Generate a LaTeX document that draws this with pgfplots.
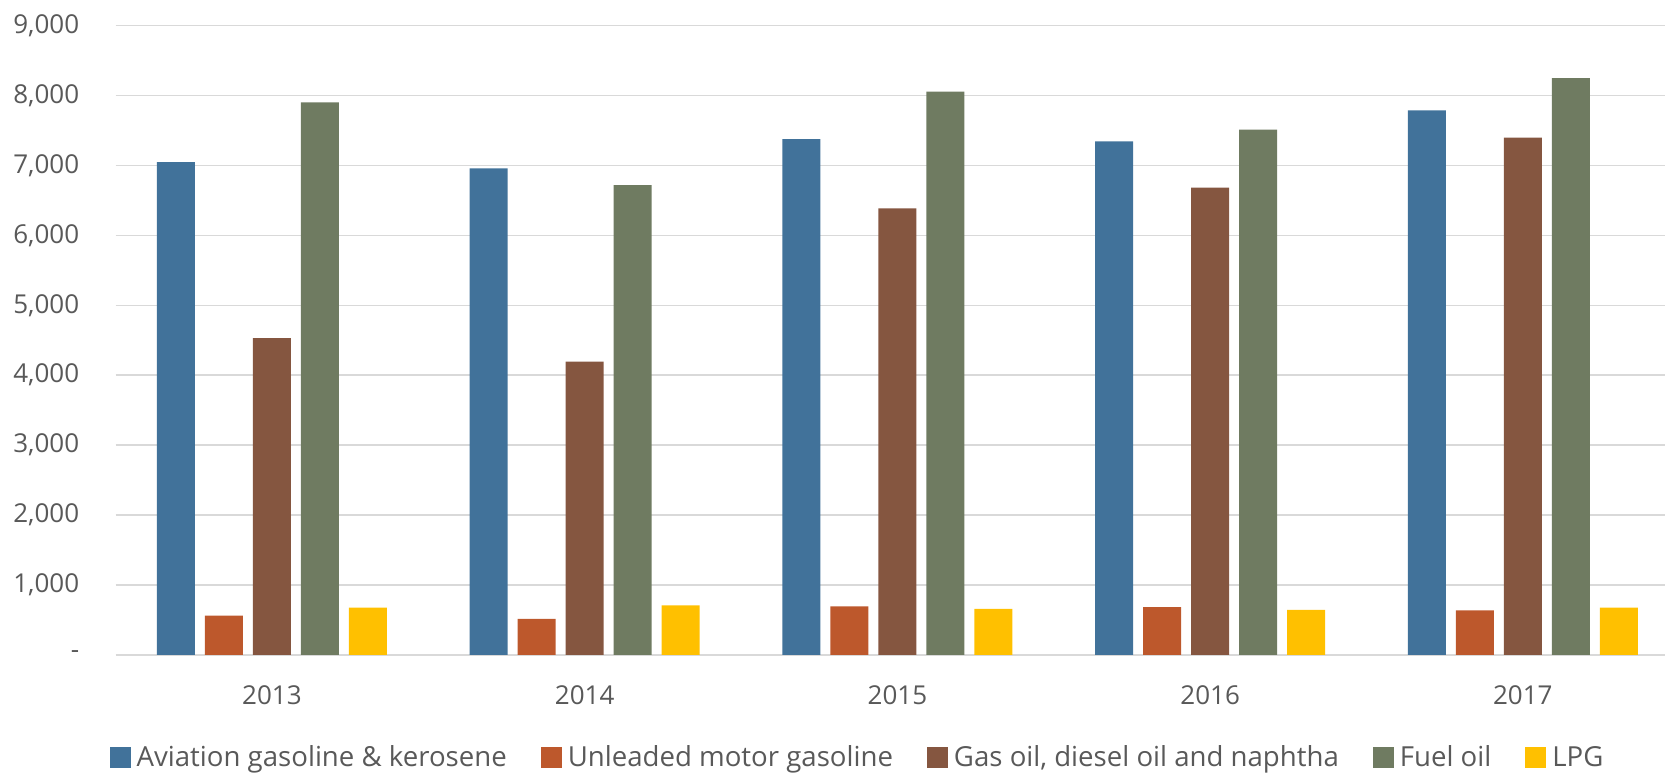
\documentclass[border=0pt]{standalone}
\usepackage{fontspec}
\setmainfont{Open Sans}
\usepackage{pgfplots}
\pgfplotsset{compat=1.18}

\definecolor{cAvi}{HTML}{41729A}
\definecolor{cUnl}{HTML}{BD582C}
\definecolor{cGas}{HTML}{855640}
\definecolor{cFuel}{HTML}{6F7B61}
\definecolor{cLpg}{HTML}{FFC000}
\definecolor{cText}{HTML}{595959}
\definecolor{cGrid}{HTML}{D9D9D9}

\begin{document}
\begin{tikzpicture}
\path[use as bounding box] (-57.8pt,-59.5pt) rectangle (774.7pt,327.5pt);
\begin{axis}[
  at={(0,0)}, anchor=south west,
  scale only axis,
  width=781.8pt, height=314.75pt,
  ybar=5pt, bar width=19pt,
  xmin=-0.5, xmax=4.5,
  ymin=0, ymax=9000,
  xtick={0,1,2,3,4},
  xticklabels={2013,2014,2015,2016,2017},
  ytick={0,1000,...,9000},
  yticklabels={{-\hspace{6.5pt}},{1,000},{2,000},{3,000},{4,000},{5,000},{6,000},{7,000},{8,000},{9,000}},
  /pgf/number format/assume math mode=true,
  axis line style={draw=none},
  major tick length=0pt,
  ymajorgrids,
  grid style={draw=cGrid, line width=0.75pt},
  tick label style={font=\fontsize{13}{15}\selectfont, text=cText, inner sep=0pt},
  yticklabel style={anchor=east, xshift=-18pt},
  xticklabel style={anchor=north, yshift=-15pt},
  legend columns=5,
  legend style={
    at={(0,0)}, anchor=west, xshift=-3pt, yshift=-51.5pt,
    draw=none, fill=none, inner sep=0pt, outer sep=0pt,
    font=\fontsize{13.8}{16}\selectfont, text=cText,
    nodes={inner sep=0pt},
    /tikz/every odd column/.append style={column sep=3pt},
    /tikz/every even column/.append style={column sep=17pt},
  },
  legend image code/.code={\fill[#1] (0pt,-5pt) rectangle (10.5pt,5.5pt);},
]
\addplot[fill=cAvi, draw=none] coordinates {(0,7045) (1,6956) (2,7377) (3,7345) (4,7786)};
\addlegendentry{Aviation gasoline \& kerosene}
\addplot[fill=cUnl, draw=none] coordinates {(0,562) (1,517) (2,696) (3,683) (4,639)};
\addlegendentry{Unleaded motor gasoline}
\addplot[fill=cGas, draw=none] coordinates {(0,4529) (1,4196) (2,6387) (3,6681) (4,7397)};
\addlegendentry{Gas oil, diesel oil and naphtha}
\addplot[fill=cFuel, draw=none] coordinates {(0,7901) (1,6719) (2,8054) (3,7511) (4,8246)};
\addlegendentry{Fuel oil}
\addplot[fill=cLpg, draw=none] coordinates {(0,677) (1,709) (2,658) (3,645) (4,677)};
\addlegendentry{LPG}
\end{axis}
\end{tikzpicture}
\end{document}
